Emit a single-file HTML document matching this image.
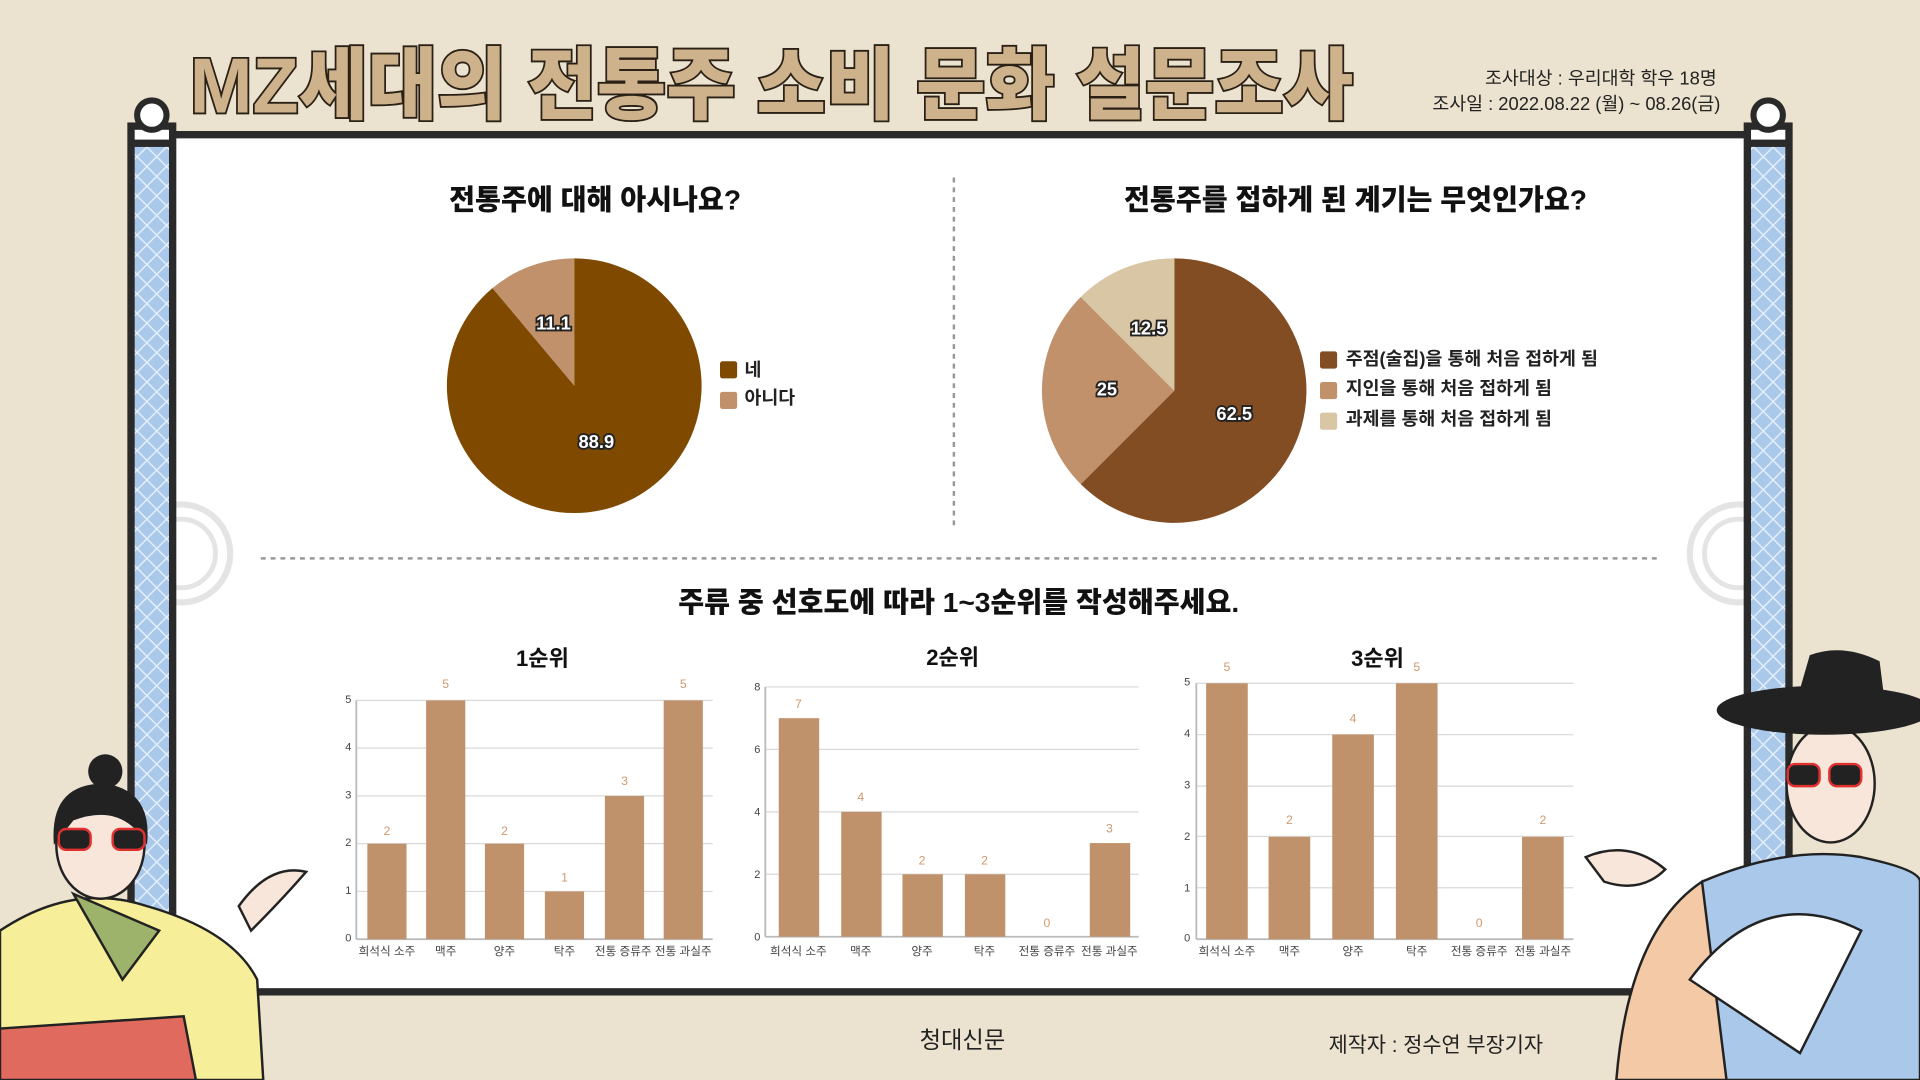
<!DOCTYPE html>
<html><head><meta charset="utf-8"><style>
html,body{margin:0;padding:0;width:1920px;height:1080px;overflow:hidden;background:#ebe3cf}
svg{display:block}
text{font-family:"Liberation Sans","Noto Sans CJK KR",sans-serif}
</style></head><body>
<svg width="1920" height="1080" viewBox="0 0 1568 882" xmlns="http://www.w3.org/2000/svg">
<defs>
<pattern id="blue" width="16" height="16" patternUnits="userSpaceOnUse">
<rect width="16" height="16" fill="#a9c8ea"/>
<path d="M0 0L16 16M16 0L0 16" stroke="#e6f0fb" stroke-width="1.2"/>
</pattern>
</defs>
<rect width="1568" height="882" fill="#ebe3cf"/>
<!-- title -->
<text x="630" y="92" text-anchor="middle" font-size="64" font-weight="900" fill="#cdb28b" stroke="#2b2016" stroke-width="3" paint-order="stroke" textLength="950" lengthAdjust="spacingAndGlyphs">MZ세대의 전통주 소비 문화 설문조사</text>
<text x="1402" y="69" text-anchor="end" font-size="15" fill="#222">조사대상 : 우리대학 학우 18명</text>
<text x="1405" y="90" text-anchor="end" font-size="15" fill="#222">조사일 : 2022.08.22 (월) ~ 08.26(금)</text>
<!-- board -->
<rect x="140" y="110" width="1288" height="700" fill="#fff" stroke="#2a2a2a" stroke-width="6"/>
<circle cx="148" cy="452" r="40" fill="none" stroke="#e4e4e4" stroke-width="5"/>
<circle cx="148" cy="452" r="28" fill="none" stroke="#e4e4e4" stroke-width="4"/>
<circle cx="1420" cy="452" r="40" fill="none" stroke="#e4e4e4" stroke-width="5"/>
<circle cx="1420" cy="452" r="28" fill="none" stroke="#e4e4e4" stroke-width="4"/>
<rect x="104" y="100" width="40" height="660" fill="#2a2a2a"/>
<rect x="110" y="106" width="28" height="8" fill="#fff"/>
<rect x="110" y="120" width="28" height="640" fill="url(#blue)"/>
<circle cx="124" cy="94" r="12" fill="#fff" stroke="#2a2a2a" stroke-width="5"/>
<rect x="1424" y="100" width="40" height="660" fill="#2a2a2a"/>
<rect x="1430" y="106" width="28" height="8" fill="#fff"/>
<rect x="1430" y="120" width="28" height="640" fill="url(#blue)"/>
<circle cx="1444" cy="94" r="12" fill="#fff" stroke="#2a2a2a" stroke-width="5"/>
<!-- dividers -->
<line x1="779" y1="145" x2="779" y2="430" stroke="#999" stroke-width="2" stroke-dasharray="4 4"/>
<line x1="213" y1="456" x2="1355" y2="456" stroke="#999" stroke-width="2" stroke-dasharray="4 4"/>
<!-- pie 1 -->
<text x="486" y="171" text-anchor="middle" font-size="23" font-weight="900" fill="#111">전통주에 대해 아시나요?</text>
<path d="M469,315 L469,211 A104,104 0 0 0 402.15,235.3 Z" fill="#c0916a"/>
<path d="M469,315 L402.15,235.3 A104,104 0 1 0 469,211 Z" fill="#7f4a00"/>
<rect x="588" y="295" width="14" height="14" rx="2" fill="#7f4a00"/>
<rect x="588" y="320" width="14" height="14" rx="2" fill="#c0916a"/>
<text x="608" y="307" font-size="15" font-weight="bold" fill="#222">네</text>
<text x="608" y="330" font-size="15" font-weight="bold" fill="#222">아니다</text>
<!-- pie 2 -->
<text x="1107" y="171" text-anchor="middle" font-size="23" font-weight="900" fill="#111">전통주를 접하게 된 계기는 무엇인가요?</text>
<path d="M959,319 L959,211 A108,108 0 1 1 882.6,395.4 Z" fill="#834d24"/>
<path d="M959,319 L882.6,395.4 A108,108 0 0 1 882.6,242.6 Z" fill="#c0916a"/>
<path d="M959,319 L882.6,242.6 A108,108 0 0 1 959,211 Z" fill="#d8c6a5"/>
<g font-size="15" font-weight="bold" fill="#fff" stroke="#222" stroke-width="3" paint-order="stroke" text-anchor="middle">
<text x="452" y="269">11.1</text><text x="487" y="366">88.9</text>
<text x="938" y="273">12.5</text><text x="904" y="323">25</text><text x="1008" y="343">62.5</text>
</g>
<rect x="1078" y="287" width="14" height="14" rx="2" fill="#834d24"/>
<rect x="1078" y="312" width="14" height="14" rx="2" fill="#c0916a"/>
<rect x="1078" y="337" width="14" height="14" rx="2" fill="#d8c6a5"/>
<g font-size="15" font-weight="bold" fill="#222">
<text x="1099" y="298">주점(술집)을 통해 처음 접하게 됨</text>
<text x="1099" y="322">지인을 통해 처음 접하게 됨</text>
<text x="1099" y="347">과제를 통해 처음 접하게 됨</text>
</g>
<text x="783" y="500" text-anchor="middle" font-size="23" font-weight="900" fill="#111">주류 중 선호도에 따라 1~3순위를 작성해주세요.</text>
<!-- bar charts -->
<text x="443" y="544" text-anchor="middle" font-size="18" font-weight="bold" fill="#111">1순위</text>
<g stroke="#d9d9d9" stroke-width="1">
<line x1="291" y1="572" x2="582" y2="572"/><line x1="291" y1="611" x2="582" y2="611"/><line x1="291" y1="650" x2="582" y2="650"/><line x1="291" y1="689" x2="582" y2="689"/><line x1="291" y1="728" x2="582" y2="728"/>
<line x1="625" y1="561" x2="930" y2="561"/><line x1="625" y1="612" x2="930" y2="612"/><line x1="625" y1="663" x2="930" y2="663"/><line x1="625" y1="714" x2="930" y2="714"/>
<line x1="977" y1="558" x2="1285" y2="558"/><line x1="977" y1="600" x2="1285" y2="600"/><line x1="977" y1="642" x2="1285" y2="642"/><line x1="977" y1="683" x2="1285" y2="683"/><line x1="977" y1="725" x2="1285" y2="725"/>
</g>
<g stroke="#bbb" stroke-width="1.5">
<line x1="291" y1="572" x2="291" y2="767"/><line x1="291" y1="767" x2="582" y2="767"/>
<line x1="625" y1="561" x2="625" y2="765"/><line x1="625" y1="765" x2="930" y2="765"/>
<line x1="977" y1="558" x2="977" y2="767"/><line x1="977" y1="767" x2="1285" y2="767"/>
</g>
<g fill="#c0926b">
<rect x="300" y="689" width="32" height="78"/><rect x="348" y="572" width="32" height="195"/><rect x="396" y="689" width="32" height="78"/><rect x="445" y="728" width="32" height="39"/><rect x="494" y="650" width="32" height="117"/><rect x="542" y="572" width="32" height="195"/>
<rect x="636" y="586.5" width="33" height="178.5"/><rect x="687" y="663" width="33" height="102"/><rect x="737" y="714" width="33" height="51"/><rect x="788" y="714" width="33" height="51"/><rect x="890" y="688.5" width="33" height="76.5"/>
<rect x="985" y="558" width="34" height="209"/><rect x="1036" y="683.4" width="34" height="83.6"/><rect x="1088" y="599.8" width="34" height="167.2"/><rect x="1140" y="558" width="34" height="209"/><rect x="1243" y="683.4" width="34" height="83.6"/>
</g>
<g font-size="10" fill="#d09a70" text-anchor="middle">
<text x="316" y="682">2</text><text x="364" y="562">5</text><text x="412" y="682">2</text><text x="461" y="720">1</text><text x="510" y="641">3</text><text x="558" y="562">5</text>
<text x="652" y="578">7</text><text x="703" y="654">4</text><text x="753" y="706">2</text><text x="804" y="706">2</text><text x="855" y="757">0</text><text x="906" y="680">3</text>
<text x="1002" y="548">5</text><text x="1053" y="673">2</text><text x="1105" y="590">4</text><text x="1157" y="548">5</text><text x="1208" y="757">0</text><text x="1260" y="673">2</text>
</g>
<g font-size="9" fill="#444" text-anchor="end">
<text x="287" y="574">5</text><text x="287" y="613">4</text><text x="287" y="652">3</text><text x="287" y="691">2</text><text x="287" y="730">1</text><text x="287" y="769">0</text>
<text x="621" y="564">8</text><text x="621" y="615">6</text><text x="621" y="666">4</text><text x="621" y="717">2</text><text x="621" y="768">0</text>
<text x="972" y="560">5</text><text x="972" y="602">4</text><text x="972" y="644">3</text><text x="972" y="686">2</text><text x="972" y="728">1</text><text x="972" y="769">0</text>
</g>
<g font-size="9.5" fill="#444" text-anchor="middle">
<text x="316" y="780">희석식 소주</text><text x="364" y="780">맥주</text><text x="412" y="780">양주</text><text x="461" y="780">탁주</text><text x="509" y="780">전통 증류주</text><text x="558" y="780">전통 과실주</text>
<text x="652" y="780">희석식 소주</text><text x="703" y="780">맥주</text><text x="753" y="780">양주</text><text x="804" y="780">탁주</text><text x="855" y="780">전통 증류주</text><text x="906" y="780">전통 과실주</text>
<text x="1002" y="780">희석식 소주</text><text x="1053" y="780">맥주</text><text x="1105" y="780">양주</text><text x="1157" y="780">탁주</text><text x="1208" y="780">전통 증류주</text><text x="1260" y="780">전통 과실주</text>
</g>
<text x="778" y="543" text-anchor="middle" font-size="18" font-weight="bold" fill="#111">2순위</text>
<text x="1125" y="544" text-anchor="middle" font-size="18" font-weight="bold" fill="#111">3순위</text>
<!-- footer -->
<text x="786" y="856" text-anchor="middle" font-size="19" fill="#222">청대신문</text>
<text x="1085" y="859" font-size="17" fill="#222">제작자 : 정수연 부장기자</text>
<!-- left character (approx) -->
<path d="M0,760 Q60,720 120,740 Q190,760 210,800 L215,882 L0,882 Z" fill="#f7ee9a" stroke="#222" stroke-width="2"/>
<path d="M0,840 L150,830 L160,882 L0,882 Z" fill="#e06a5e" stroke="#222" stroke-width="2"/>
<path d="M60,730 L100,800 L130,760 Z" fill="#9db36b" stroke="#222" stroke-width="2"/>
<ellipse cx="82" cy="690" rx="36" ry="44" fill="#f8e6da" stroke="#222" stroke-width="2"/>
<path d="M44,690 Q40,640 85,640 Q125,645 120,690 Q100,655 60,670 Z" fill="#222"/>
<circle cx="86" cy="630" r="14" fill="#222"/>
<rect x="48" y="677" width="26" height="17" rx="6" fill="#222" stroke="#e03030" stroke-width="2"/>
<rect x="92" y="677" width="26" height="17" rx="6" fill="#222" stroke="#e03030" stroke-width="2"/>
<path d="M195,740 Q220,705 250,712 Q230,735 205,760 Z" fill="#f8e6da" stroke="#222" stroke-width="2"/>
<!-- right character (approx) -->
<path d="M1390,720 Q1460,690 1520,700 Q1568,710 1568,720 L1568,882 L1360,882 Q1350,790 1390,720 Z" fill="#a9c8ea" stroke="#222" stroke-width="2"/>
<path d="M1320,882 Q1330,760 1390,720 L1410,882 Z" fill="#f3c9a6" stroke="#222" stroke-width="2"/>
<path d="M1380,800 Q1440,720 1520,760 L1470,860 Z" fill="#fff" stroke="#222" stroke-width="2"/>
<ellipse cx="1495" cy="640" rx="36" ry="48" fill="#f8e6da" stroke="#222" stroke-width="2"/>
<ellipse cx="1490" cy="580" rx="88" ry="20" fill="#222"/>
<path d="M1465,580 L1478,535 Q1505,525 1535,540 L1540,580 Z" fill="#222"/>
<rect x="1460" y="624" width="26" height="18" rx="6" fill="#222" stroke="#e03030" stroke-width="2"/>
<rect x="1494" y="624" width="26" height="18" rx="6" fill="#222" stroke="#e03030" stroke-width="2"/>
<path d="M1295,700 Q1330,685 1360,710 Q1340,730 1310,720 Z" fill="#f8e6da" stroke="#222" stroke-width="2"/>
</svg>
</body></html>
